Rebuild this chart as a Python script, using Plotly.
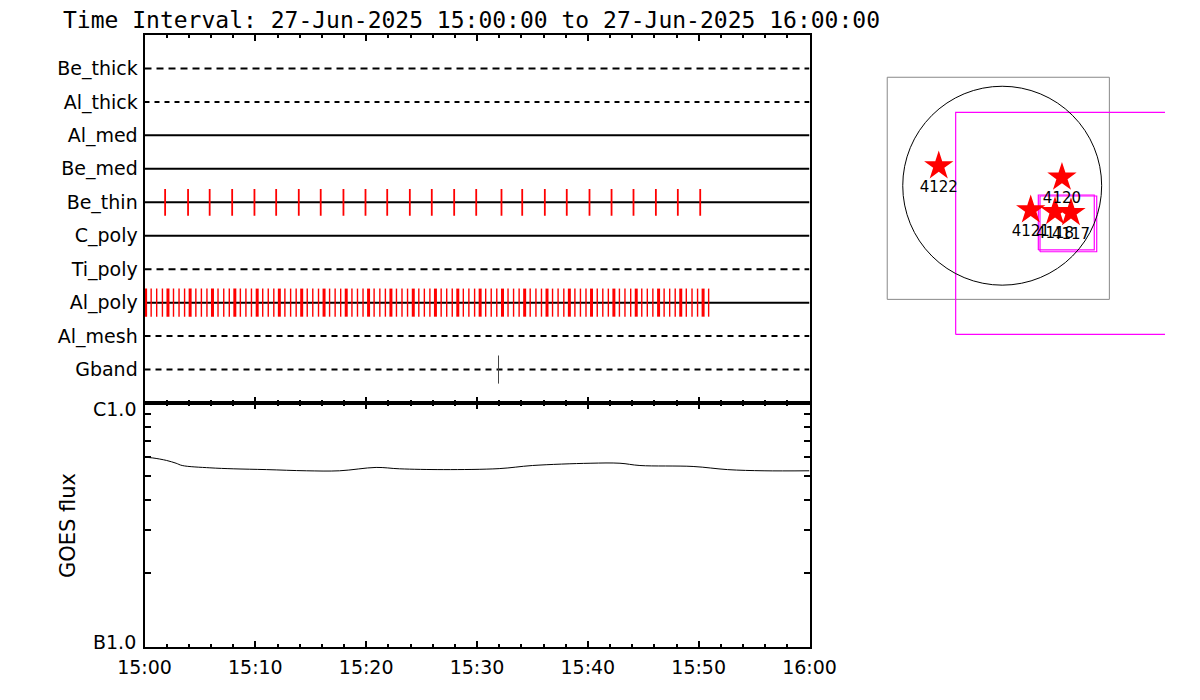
import math
import pandas as pd
import plotly.graph_objects as go

W, H = 1200, 700
T0 = pd.Timestamp("2025-06-27 15:00:00")
T1 = pd.Timestamp("2025-06-27 16:00:00")

# ---------------- data ----------------
filters = ["Be_thick", "Al_thick", "Al_med", "Be_med", "Be_thin",
           "C_poly", "Ti_poly", "Al_poly", "Al_mesh", "Gband"]
row_pos = [1, 2, 3, 4, 5, 6, 7, 8, 9, 10]
row_dash = ["7px,5px", "5px,5px", "solid", "solid", "solid",
            "solid", "7px,5px", "solid", "6px,5px", "6px,5px"]

# exposure times (minutes after 15:00)
be_thin_min = [1.86, 3.93, 5.88, 7.91, 9.92, 11.88, 13.92, 15.90, 17.95, 19.94,
               21.90, 23.94, 25.92, 27.94, 29.93, 32.21, 34.08, 36.12, 38.10,
               40.15, 42.14, 44.12, 46.14, 48.12, 50.14]
# exposure times (seconds after 15:00)
al_poly_sec = [6, 36, 66, 97, 127, 157, 187, 217, 247, 278, 308, 338, 368, 398,
               429, 459, 489, 519, 549, 579, 610, 640, 670, 700, 730, 760, 791,
               821, 851, 881, 911, 942, 972, 1002, 1032, 1062, 1092, 1123, 1153,
               1183, 1213, 1243, 1274, 1304, 1334, 1364, 1394, 1424, 1455, 1485,
               1515, 1545, 1575, 1606, 1636, 1666, 1696, 1726, 1756, 1787, 1817,
               1847, 1877, 1907, 1938, 1968, 1998, 2028, 2058, 2088, 2119, 2149,
               2179, 2209, 2239, 2270, 2300, 2330, 2360, 2390, 2420, 2451, 2481,
               2511, 2541, 2571, 2601, 2632, 2662, 2692, 2722, 2752, 2783, 2813,
               2843, 2873, 2903, 2933, 2964, 2994, 3024, 3054]
gband_min = [31.94]

# GOES flux (W/m^2)
goes_min = [0, 0.75, 2.0, 2.85, 3.4, 5.9, 8.0, 11.0, 14.6, 17.6, 20.9, 23.0,
            27.0, 32.0, 35.0, 40.2, 42.9, 44.7, 49.5, 52.6, 55.9, 60.0]
goes_flux = [5.99e-7, 5.95e-7, 5.81e-7, 5.66e-7, 5.54e-7, 5.42e-7, 5.37e-7,
             5.33e-7, 5.27e-7, 5.27e-7, 5.44e-7, 5.37e-7, 5.33e-7, 5.38e-7,
             5.54e-7, 5.66e-7, 5.66e-7, 5.54e-7, 5.49e-7, 5.33e-7, 5.27e-7,
             5.27e-7]
goes_tickvals = [1e-7, 1e-6]
goes_ticktext = ["B1.0", "C1.0"]
goes_minor = [2e-7, 3e-7, 4e-7, 5e-7, 6e-7, 7e-7, 8e-7, 9e-7]

# map (arcsec from disk centre)
sun_radius = 917
fov_gray = (-36, -24, 2048, 2048)          # xc, yc, w, h
fov_magenta = [(595, -347, 2048, 2048),
               (591, -339, 516, 507),
               (610, -352, 523, 514)]
ar_ids = ["4122", "4120", "4121", "4118", "4117"]
ar_x = [-585, 551, 263, 487, 634]
ar_y = [182, 77, -224, -240, -249]

# ---------------- helpers ----------------
def ts_min(m):
    return T0 + pd.to_timedelta(m, unit="m")

def ts_sec(s):
    return T0 + pd.to_timedelta(s, unit="s")

def marks(times, yc, half):
    xs, ys = [], []
    for t in times:
        xs += [t, t, None]
        ys += [yc - half, yc + half, None]
    return xs, ys

def rect(xc, yc, w, h):
    x0, x1 = xc - w / 2, xc + w / 2
    y0, y1 = yc - h / 2, yc + h / 2
    return [x0, x1, x1, x0, x0], [y0, y0, y1, y1, y0]

fig = go.Figure()

# filter rows
for name, yv, dash in zip(filters, row_pos, row_dash):
    fig.add_trace(go.Scatter(x=[T0, T1], y=[yv, yv], mode="lines",
                             line=dict(color="black", width=2, dash=dash),
                             xaxis="x", yaxis="y", hoverinfo="skip",
                             showlegend=False))

be_row = row_pos[filters.index("Be_thin")]
al_row = row_pos[filters.index("Al_poly")]
g_row = row_pos[filters.index("Gband")]

xs, ys = marks([ts_min(m) for m in be_thin_min], be_row, 0.4)
fig.add_trace(go.Scatter(x=xs, y=ys, mode="lines", line=dict(color="red", width=1.8),
                         xaxis="x", yaxis="y", hoverinfo="skip", showlegend=False))

al_long = [s for i, s in enumerate(al_poly_sec) if i % 4 == 0]
al_short = [s for i, s in enumerate(al_poly_sec) if i % 4 != 0]
xs, ys = marks([ts_sec(s) for s in al_short], al_row, 0.42)
fig.add_trace(go.Scatter(x=xs, y=ys, mode="lines", line=dict(color="red", width=1.4),
                         xaxis="x", yaxis="y", hoverinfo="skip", showlegend=False))
xs, ys = marks([ts_sec(s) for s in al_long], al_row, 0.42)
fig.add_trace(go.Scatter(x=xs, y=ys, mode="lines", line=dict(color="red", width=3),
                         xaxis="x", yaxis="y", hoverinfo="skip", showlegend=False))

xs, ys = marks([ts_min(m) for m in gband_min], g_row, 0.42)
fig.add_trace(go.Scatter(x=xs, y=ys, mode="lines", line=dict(color="#444444", width=1),
                         xaxis="x", yaxis="y", hoverinfo="skip", showlegend=False))

# GOES
fig.add_trace(go.Scatter(x=[ts_min(m) for m in goes_min], y=goes_flux, mode="lines",
                         line=dict(color="black", width=1), line_shape="spline",
                         xaxis="x2", yaxis="y2", hoverinfo="skip", showlegend=False))

# map
gx, gy = rect(*fov_gray)
fig.add_trace(go.Scatter(x=gx, y=gy, mode="lines", line=dict(color="#888888", width=1),
                         xaxis="x3", yaxis="y3", hoverinfo="skip", showlegend=False))
for f in fov_magenta:
    mx, my = rect(*f)
    fig.add_trace(go.Scatter(x=mx, y=my, mode="lines", line=dict(color="#ff00ff", width=1.2),
                             xaxis="x3", yaxis="y3", hoverinfo="skip", showlegend=False))
fig.add_shape(type="circle", xref="x3", yref="y3",
              x0=-sun_radius, x1=sun_radius, y0=-sun_radius, y1=sun_radius,
              line=dict(color="black", width=1))
fig.add_trace(go.Scatter(x=ar_x, y=ar_y, mode="markers+text", text=ar_ids,
                         textposition="bottom center",
                         textfont=dict(size=15, color="black"),
                         marker=dict(symbol="star", size=22, color="red",
                                     line=dict(width=0)),
                         xaxis="x3", yaxis="y3", hoverinfo="skip", showlegend=False))

# ---------------- layout ----------------
# the page places the figure 8 px from the window's top-left corner
OFF = 8
px = lambda v: (v - OFF) / W
py = lambda v: 1 - (v - OFF) / H
xdom = [px(144.5), px(809.5)]

axis_common = dict(showline=True, linecolor="black", linewidth=2, showgrid=False,
                   zeroline=False, automargin=False)

fig.update_layout(
    width=W, height=H,
    margin=dict(l=0, r=0, t=0, b=0, pad=0, autoexpand=False),
    paper_bgcolor="white", plot_bgcolor="white",
    font=dict(family="DejaVu Sans", color="black", size=19),
    xaxis=dict(domain=xdom, anchor="y", type="date", range=[T0, T1],
               showticklabels=False, ticks="inside", ticklen=6, tickwidth=2,
               tickcolor="black", dtick=600000, tick0=T0, mirror="ticks",
               minor=dict(dtick=120000, ticks="inside", ticklen=3, tickwidth=2,
                          tickcolor="black", showgrid=False),
               **axis_common),
    yaxis=dict(domain=[py(403), py(35)], anchor="x", range=[11, 0],
               tickmode="array", tickvals=row_pos, ticktext=filters, ticks="",
               mirror=True, ticklabelstandoff=1, tickfont=dict(size=19),
               **axis_common),
    xaxis2=dict(domain=xdom, anchor="y2", type="date", range=[T0, T1],
                tickformat="%H:%M", ticks="inside", ticklen=6, tickwidth=2,
                tickcolor="black", dtick=600000, tick0=T0, mirror="ticks",
                minor=dict(dtick=120000, ticks="inside", ticklen=3, tickwidth=2,
                           tickcolor="black", showgrid=False),
                ticklabelstandoff=2, tickfont=dict(size=19),
                **axis_common),
    yaxis2=dict(domain=[py(646.7), py(403)], anchor="x2", type="log", range=[-7, -6],
                tickmode="array", tickvals=goes_tickvals, showticklabels=False,
                ticks="inside", ticklen=6, tickwidth=1.5, tickcolor="black",
                mirror="ticks",
                minor=dict(tickmode="array", tickvals=goes_minor,
                           ticks="inside", ticklen=6, tickwidth=1.5,
                           tickcolor="black", showgrid=False),
                **axis_common),
    xaxis3=dict(domain=[px(880), px(1165)], anchor="y3", visible=False,
                automargin=False, range=[-1126.7, 1501.0]),
    yaxis3=dict(domain=[py(345), py(70)], anchor="x3", visible=False,
                automargin=False, range=[-1468.7, 1066.8]),
)

# title
fig.add_annotation(text="Time Interval: 27-Jun-2025 15:00:00 to 27-Jun-2025 16:00:00",
                   xref="paper", yref="paper", x=px(61), y=py(20),
                   xanchor="left", yanchor="middle", showarrow=False,
                   font=dict(size=23, color="black", family="DejaVu Sans Mono"))

# GOES class labels (IDL keeps them inside the axis span)
for val, txt, shift in zip(goes_tickvals, goes_ticktext, [5, -6]):
    fig.add_annotation(text=txt, xref="paper", yref="y2", x=px(137.5),
                       y=math.log10(val), yshift=shift, xanchor="right",
                       yanchor="middle", showarrow=False,
                       font=dict(size=19, color="black"))

fig.add_annotation(text="GOES flux", xref="paper", yref="paper",
                   x=px(68), y=py(526), textangle=-90, showarrow=False,
                   xanchor="center", yanchor="middle",
                   font=dict(size=21, color="black"))

fig.write_html("out.html")
